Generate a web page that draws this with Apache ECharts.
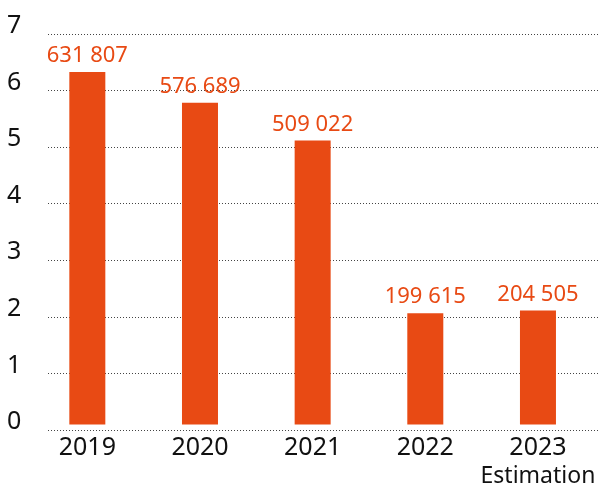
<!DOCTYPE html>
<html>
<head>
<meta charset="utf-8">
<script src="https://cdn.jsdelivr.net/npm/echarts@6/dist/echarts.min.js"></script>
<style>
    html, body { margin: 0; padding: 0; background: #fff; }
    #chart { width: 598px; height: 488px; }
</style>
</head>
<body>
<div id="chart"></div>
<script>
// data
const years = ['2019', '2020', '2021', '2022', '2023']
const values = [631807, 576689, 509022, 199615, 204505]
const yTicks = ['0', '1', '2', '3', '4', '5', '6', '7']
const subLabel = { '2023': 'Estimation' }

const orange = '#E84A14'
const font = 'Noto Sans'

// 100 000 -> "100 000"
const fmt = v => String(v).replace(/\B(?=(\d{3})+(?!\d))/g, ' ')

const chart = echarts.init(document.getElementById('chart'))

const option = {
    animation: false,
    textStyle: { fontFamily: font },
    grid: [
        // gridlines + y labels
        { left: 48, right: 0, top: 34, height: 396 },
        // bars
        { left: 31, width: 567, top: 34, height: 396 }
    ],
    xAxis: [
        { gridIndex: 0, type: 'value', show: false },
        {
            gridIndex: 1,
            type: 'category',
            data: years,
            axisLine: { show: false },
            axisTick: { show: false },
            axisLabel: {
                margin: 8,
                interval: 0,
                formatter: v => subLabel[v] ? '{a|' + v + '}\n{b|' + subLabel[v] + '}' : '{a|' + v + '}',
                rich: {
                    a: { fontSize: 25, color: '#111', fontFamily: font, lineHeight: 30 },
                    b: { fontSize: 23, color: '#111', fontFamily: font, lineHeight: 28 }
                }
            }
        }
    ],
    yAxis: [
        {
            gridIndex: 0,
            type: 'value',
            min: 0,
            max: 700000,
            interval: 100000,
            axisLine: { show: false },
            axisTick: { show: false },
            axisLabel: {
                align: 'left',
                verticalAlign: 'bottom',
                lineHeight: 16,
                margin: 41,
                fontSize: 25,
                color: '#111',
                formatter: v => yTicks[Math.round(v / 100000)]
            },
            splitLine: {
                lineStyle: { type: [1, 2], color: '#444', width: 1 }
            }
        },
        {
            gridIndex: 1,
            type: 'value',
            min: 0,
            max: 700000,
            interval: 100000,
            show: false,
            splitLine: { show: false }
        }
    ],
    series: [
        {
            type: 'bar',
            xAxisIndex: 1,
            yAxisIndex: 1,
            data: values,
            barWidth: 36,
            itemStyle: { color: orange },
            label: {
                show: true,
                position: 'top',
                distance: 5,
                color: orange,
                fontSize: 22,
                fontFamily: font,
                formatter: p => fmt(p.value)
            }
        }
    ]
}

chart.setOption(option)
</script>
</body>
</html>
